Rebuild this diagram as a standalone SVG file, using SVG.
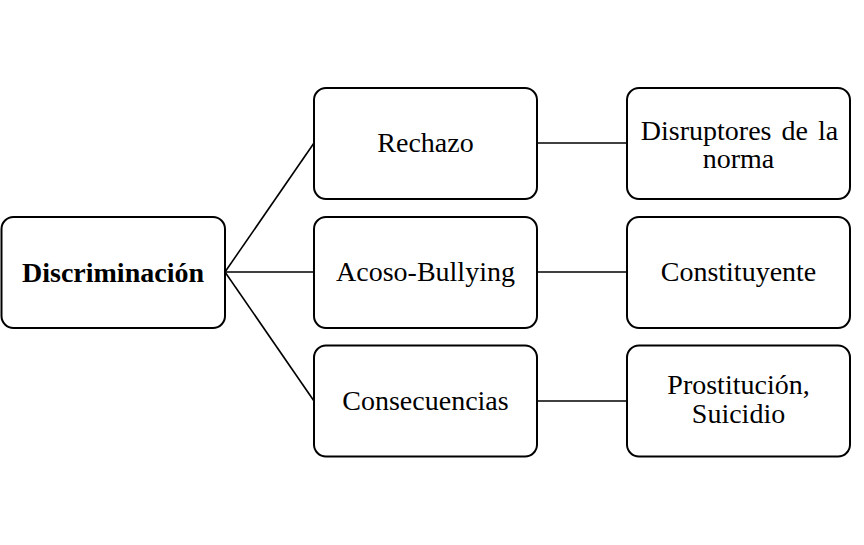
<svg xmlns="http://www.w3.org/2000/svg" width="864" height="545" viewBox="0 0 864 545">
<style>
.box{fill:#fff;stroke:#000;stroke-width:2}
.t{font-family:"Liberation Serif","Times New Roman",serif;font-size:28px;fill:#000;text-anchor:middle}
.b{font-weight:bold}
.c{stroke:#000;stroke-width:1.6;fill:none}
</style>
<rect width="864" height="545" fill="#fff"/>
<g id="connectors">
<line class="c" x1="225" y1="272" x2="314" y2="143"/>
<line class="c" x1="225" y1="272" x2="314" y2="272"/>
<line class="c" x1="225" y1="272" x2="314" y2="401"/>
<line class="c" x1="537" y1="143" x2="627" y2="143"/>
<line class="c" x1="537" y1="272" x2="627" y2="272"/>
<line class="c" x1="537" y1="401" x2="627" y2="401"/>
</g>
<g id="discriminacion">
<rect class="box" x="1.5" y="217" width="223.5" height="111" rx="12"/>
<text class="t b" x="113" y="282">Discriminación</text>
</g>
<g id="rechazo">
<rect class="box" x="314" y="88" width="223" height="111" rx="12"/>
<text class="t" x="425.5" y="152">Rechazo</text>
</g>
<g id="acoso">
<rect class="box" x="314" y="217" width="223" height="111" rx="12"/>
<text class="t" x="425.5" y="281">Acoso-Bullying</text>
</g>
<g id="consecuencias">
<rect class="box" x="314" y="345.5" width="223" height="111" rx="12"/>
<text class="t" x="425.5" y="409.5">Consecuencias</text>
</g>
<g id="disruptores">
<rect class="box" x="627" y="88" width="223" height="111" rx="12"/>
<text class="t" x="739.5" y="140" word-spacing="3">Disruptores de la</text>
<text class="t" x="738.5" y="168">norma</text>
</g>
<g id="constituyente">
<rect class="box" x="627" y="217" width="223" height="111" rx="12"/>
<text class="t" x="738.5" y="281">Constituyente</text>
</g>
<g id="prostitucion">
<rect class="box" x="627" y="345.5" width="223" height="111" rx="12"/>
<text class="t" x="738.5" y="394">Prostitución,</text>
<text class="t" x="738.5" y="422.5">Suicidio</text>
</g>
</svg>
